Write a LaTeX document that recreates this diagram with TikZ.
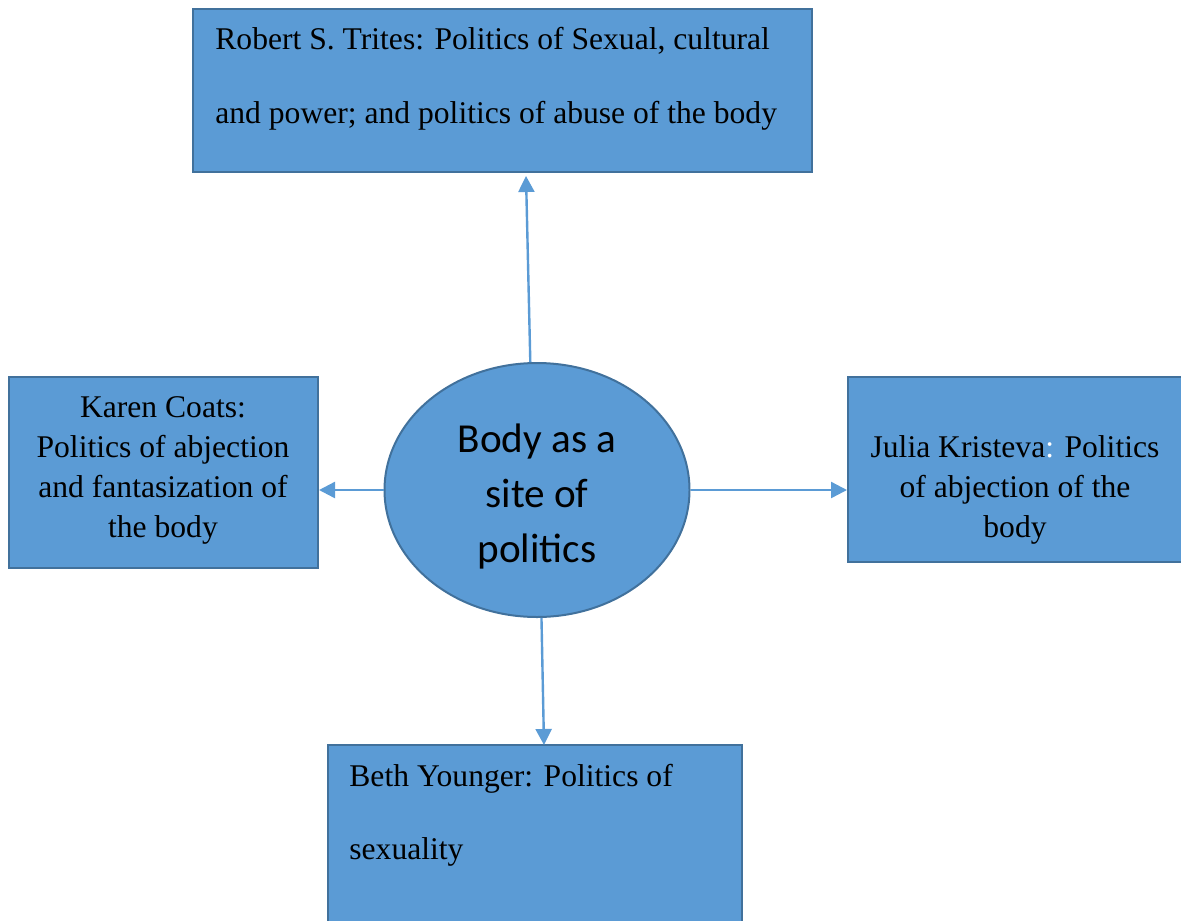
\documentclass[tikz,border=0pt]{standalone}
\usepackage{fontspec}
\setmainfont{Liberation Serif}
\newfontfamily\calibrifont{Carlito}
\usetikzlibrary{arrows.meta,shapes.geometric}
\definecolor{boxfill}{HTML}{5B9BD5}
\definecolor{boxedge}{HTML}{41719C}
\tikzset{
	theorist box/.style={draw=boxedge, fill=boxfill, line width=1pt, inner sep=0pt},
	theorist text/.style={font=\fontsize{15.8}{20}\selectfont, inner sep=0pt},
	wide text/.style={font=\fontsize{15.8}{36.5}\selectfont, inner sep=0pt, align=left},
	link/.style={draw=boxfill, line width=1.2pt, -{Triangle[length=8pt,width=8pt]}}
}
\begin{document}
\begin{tikzpicture}[x=0.5pt, y=-0.5pt]
	\useasboundingbox (0, 0) rectangle (1181, 920);
	\clip (0, 0) rectangle (1181, 920);

	\node[theorist box, minimum width=309.5pt, minimum height=81.5pt] (tritesbox) at (502.5, 90.5) {};
	\node[theorist box, minimum width=154.5pt, minimum height=95.5pt] (coatsbox) at (163.5, 472.5) {};
	\node[theorist box, minimum width=167.5pt, minimum height=92.5pt] (kristevabox) at (1015.5, 469.5) {};
	\node[theorist box, minimum width=207pt, minimum height=95pt] (youngerbox) at (535, 840) {};
	\node[theorist box, ellipse, minimum width=152.5pt, minimum height=127pt] (body) at (537, 490) {};

	\node[wide text, anchor=base west] (trites) at (215, 123) {Robert S. Trites: Politics of Sexual, cultural\\and power; and politics of abuse of the body};
	\node[theorist text, align=center] (coats) at (163, 470) {Karen Coats:\\Politics of abjection\\and fantasization of\\the body};
	\node[theorist text, align=center] (kristeva) at (1015, 490) {Julia Kristeva\textcolor{white}{:} Politics\\of abjection of the\\body};
	\node[wide text, anchor=base west] (younger) at (349, 859) {Beth Younger: Politics of\\sexuality};
	\node[inner sep=0pt, align=center, font=\calibrifont\fontsize{20.6}{27.5}\selectfont] (bodytext) at (537, 497) {Body as a\\site of\\politics};

	\coordinate (tritestip) at (526, 176);
	\coordinate (youngertip) at (544, 745);

	\draw[link] (body.93) -- (tritestip);
	\draw[link] (body.west) -- (body.west -| coatsbox.east);
	\draw[link] (body.east) -- (body.east -| kristevabox.west);
	\draw[link] (body.-88) -- (youngertip);

\end{tikzpicture}
\end{document}
